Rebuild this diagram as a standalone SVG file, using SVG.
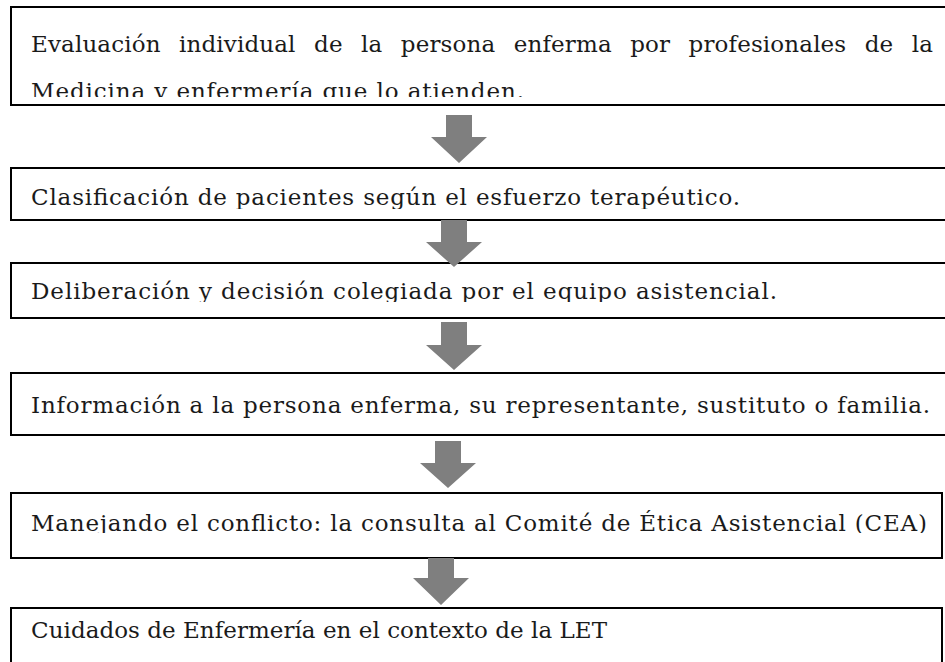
<svg xmlns="http://www.w3.org/2000/svg" width="945" height="662" viewBox="0 0 945 662">
<style>
.box{fill:#fff;stroke:#000;stroke-width:2}
.t{font-family:"DejaVu Serif","Liberation Serif",serif;font-size:23px;fill:#1a1a1a}
.arr{fill:#7f7f7f}
</style>
<defs>
<clipPath id="c1"><rect x="12" y="8" width="933" height="89"/></clipPath>
<clipPath id="c2"><rect x="12" y="169" width="933" height="40"/></clipPath>
<clipPath id="c3"><rect x="12" y="264" width="933" height="38"/></clipPath>
<clipPath id="c5"><rect x="12" y="494" width="929" height="39"/></clipPath>
</defs>
<rect width="945" height="662" fill="#fff"/>
<g id="n1">
<rect class="box" x="11" y="7" width="950" height="98"/>
<g clip-path="url(#c1)">
<text class="t" x="31" y="52" word-spacing="11" textLength="902" lengthAdjust="spacing">Evaluación individual de la persona enferma por profesionales de la</text>
<text class="t" x="31" y="99" textLength="493" lengthAdjust="spacing">Medicina y enfermería que lo atienden.</text>
</g>
</g>
<g id="n2">
<rect class="box" x="11" y="168" width="950" height="52"/>
<text class="t" clip-path="url(#c2)" x="31" y="205" textLength="709" lengthAdjust="spacing">Clasificación de pacientes según el esfuerzo terapéutico.</text>
</g>
<g id="n3">
<rect class="box" x="11" y="263" width="950" height="55"/>
<text class="t" clip-path="url(#c3)" x="31" y="299" textLength="746" lengthAdjust="spacing">Deliberación y decisión colegiada por el equipo asistencial.</text>
</g>
<g id="n4">
<rect class="box" x="11" y="373" width="950" height="62"/>
<text class="t" x="31" y="413" textLength="899" lengthAdjust="spacing">Información a la persona enferma, su representante, sustituto o familia.</text>
</g>
<g id="n5">
<rect class="box" x="11" y="493" width="931" height="65"/>
<text class="t" clip-path="url(#c5)" x="31" y="531" textLength="896" lengthAdjust="spacing">Manejando el conflicto: la consulta al Comité de Ética Asistencial (CEA)</text>
</g>
<g id="n6">
<rect class="box" x="11" y="608" width="931" height="70"/>
<text class="t" x="31" y="638" textLength="576" lengthAdjust="spacing">Cuidados de Enfermería en el contexto de la LET</text>
</g>
<g id="connectors">
<polygon class="arr" points="446,115 472,115 472,137 487,137 459,163 431,137 446,137"/>
<polygon class="arr" points="441,220 467,220 467,242 482,242 454,267 426,242 441,242"/>
<polygon class="arr" points="441,322 467,322 467,345 482,345 454,370 426,345 441,345"/>
<polygon class="arr" points="435,441 461,441 461,463 476,463 448,488 420,463 435,463"/>
<polygon class="arr" points="428,558 454,558 454,578 469,578 441,605 413,578 428,578"/>
</g>
</svg>
